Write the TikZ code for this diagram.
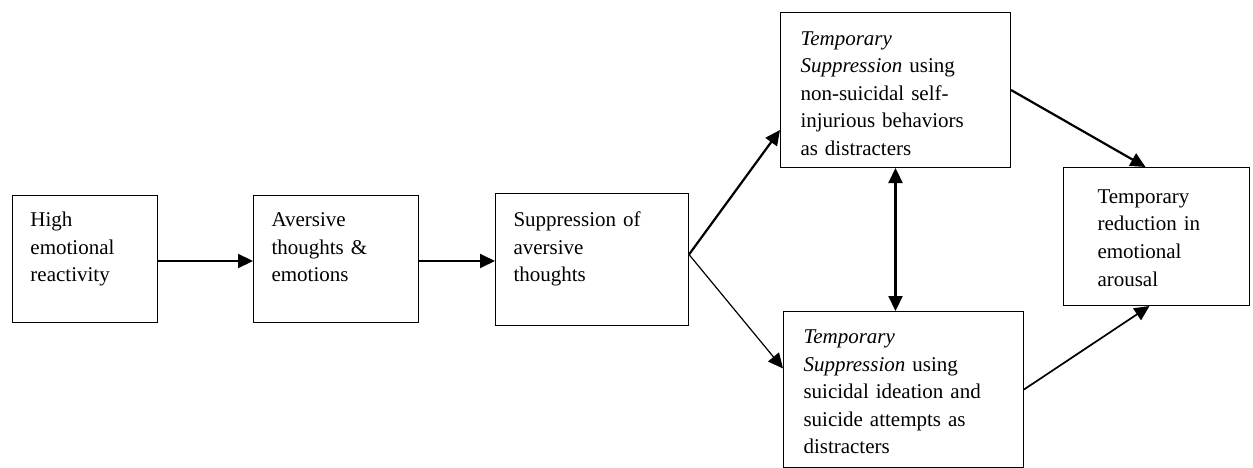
\documentclass[tikz,border=0pt]{standalone}
\usepackage{fontspec}
\setmainfont{Liberation Serif}
\usetikzlibrary{arrows.meta, positioning, calc}

\tikzset{
  box/.style={draw, line width=1pt, anchor=north west, align=left, inner ysep=0pt, inner xsep=18pt, font=\fontsize{21}{27.5}\selectfont},
  link/.style={-{Triangle[length=15pt, width=14pt]}, line width=2.2pt},
  twolink/.style={{Triangle[length=15pt, width=14pt]}-{Triangle[length=15pt, width=14pt]}, line width=2.2pt},
}

\begin{document}
\begin{tikzpicture}[x=1pt, y=-1pt]
\useasboundingbox (0,0) rectangle (1253,468);

% chain on the left
\node[box, text width=109pt, text height=31pt, text depth=96pt] (reactivity) at (12,195) {High\\emotional\\reactivity};
\node[box, text width=129pt, text height=31pt, text depth=96pt] (aversive) at (253,195) {Aversive\\thoughts \&\\emotions};
\node[box, text width=157pt, text height=33pt, text depth=99pt] (suppress) at (495,193) {Suppression of\\aversive\\thoughts};

% two kinds of distracters
\node[box, inner xsep=20pt, text width=190pt, text height=33pt, text depth=122pt] (nssi) at (780,12) {\textit{Temporary}\\\textit{Suppression} using\\non-suicidal self-\\injurious behaviors\\as distracters};
\node[box, inner xsep=20pt, text width=200pt, text height=32pt, text depth=124pt] (ideation) at (783,311) {\textit{Temporary}\\\textit{Suppression} using\\suicidal ideation and\\suicide attempts as\\distracters};

% outcome
\node[box, inner xsep=34pt, text width=118pt, text height=36pt, text depth=102pt] (reduction) at (1063,167) {Temporary\\reduction in\\emotional\\arousal};

% arrows
\coordinate (split) at ([yshift=5pt]suppress.east);
\draw[link] ([yshift=-2pt]reactivity.east) -- ([yshift=-2pt]reactivity.east -| aversive.west);
\draw[link, line width=1.9pt] ([yshift=-2pt]aversive.east) -- ([yshift=-2pt]aversive.east -| suppress.west);
\draw[link] (split) -- ([yshift=-40pt]nssi.west);
\draw[link, line width=1.2pt] (split) -- ([yshift=21pt]ideation.west);
\draw[link] (nssi.east) -- ([xshift=-11pt]reduction.north);
\draw[link, line width=1.7pt] (ideation.east) -- ([xshift=-7pt]reduction.south);
\draw[twolink] (nssi.south) -- (nssi.south |- ideation.north);
\end{tikzpicture}
\end{document}
